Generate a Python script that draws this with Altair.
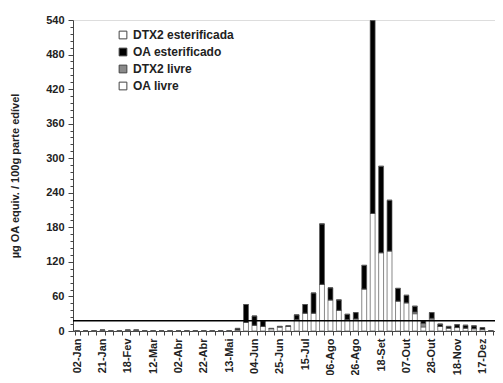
import altair as alt
import pandas as pd

dates = ["02-Jan", "08-Jan", "14-Jan", "21-Jan", "29-Jan", "08-Fev", "18-Fev", "25-Fev", "04-Mar", "12-Mar",
         "19-Mar", "26-Mar", "02-Abr", "09-Abr", "15-Abr", "22-Abr", "29-Abr", "06-Mai", "13-Mai", "20-Mai",
         "27-Mai", "04-Jun", "11-Jun", "18-Jun", "25-Jun", "02-Jul", "08-Jul", "15-Jul", "22-Jul", "29-Jul",
         "06-Ago", "12-Ago", "19-Ago", "26-Ago", "02-Set", "10-Set", "18-Set", "24-Set", "01-Out", "07-Out",
         "14-Out", "21-Out", "28-Out", "04-Nov", "11-Nov", "18-Nov", "26-Nov", "06-Dez", "17-Dez", "27-Dez"]
shown_labels = ["02-Jan", "21-Jan", "18-Fev", "12-Mar", "02-Abr", "22-Abr", "13-Mai", "04-Jun", "25-Jun",
                "15-Jul", "06-Ago", "26-Ago", "18-Set", "07-Out", "28-Out", "18-Nov", "17-Dez"]

oa_livre = [0, 0, 0, 1.5, 0, 0, 1.5, 1.5, 0, 0,
            0, 0, 0, 0, 0, 0, 0, 0, 0, 2,
            15, 10, 8, 4, 7, 8, 20, 31, 31, 81,
            54, 36, 20, 21, 73, 204, 136, 139, 52, 49,
            30, 7, 18, 8, 5, 6, 5, 4, 3, 0]
dtx2_livre = [0] * 40 + [3, 6, 4, 0, 0, 0, 0, 0, 0, 0]
oa_ester = [0, 0, 0, 0, 0, 0, 0, 0, 0, 0,
            0, 0, 0, 0, 0, 0, 0, 0, 0, 2.5,
            31, 16, 10, 0.5, 1, 1, 8, 15, 35, 105,
            21, 18, 9, 11, 41, 335, 150, 88, 22, 13,
            10, 5, 10, 4, 3, 5, 5, 5, 3, 0]
dtx2_ester = [0] * 50

y_ticks = list(range(0, 541, 12))
series = ["DTX2 esterificada", "OA esterificado", "DTX2 livre", "OA livre"]
colors = ["#ffffff", "#000000", "#8a8a8a", "#ffffff"]
limit = [18]

rows = []
for i, d in enumerate(dates):
    for name, vals, o in [("OA livre", oa_livre, 0), ("DTX2 livre", dtx2_livre, 1),
                          ("OA esterificado", oa_ester, 2), ("DTX2 esterificada", dtx2_ester, 3)]:
        rows.append({"date": d, "serie": name, "value": vals[i], "ord": o})
df = pd.DataFrame(rows)

label_list = "[" + ",".join("'%s'" % s for s in shown_labels) + "]"

y_axis = alt.Axis(title="µg OA equiv. / 100g parte edível",
                  values=y_ticks,
                  labelExpr="datum.value % 60 == 0 ? format(datum.value, 'd') : ''",
                  labelOverlap=False, labelBound=False, labelFlush=False,
                  tickSize={"condition": {"test": "datum.value % 60 == 0", "value": 5}, "value": 3},
                  grid=False, labelFont="Liberation Sans", labelFontWeight="bold", labelFontSize=11,
                  labelColor="#222222", tickColor="#444444", domainColor="#444444",
                  labelPadding=4, titleFont="Liberation Sans", titleFontWeight="bold",
                  titleFontSize=11, titleColor="#222222", titlePadding=25)
y_scale = alt.Scale(domain=[0, 540], nice=False)

bars = alt.Chart(df).mark_bar(stroke="#555555", strokeWidth=0.7).encode(
    x=alt.X("date:N", sort=dates,
            scale=alt.Scale(paddingInner=0.42, paddingOuter=0.2),
            axis=alt.Axis(title=None, labelAngle=-90, labelAlign="right", labelBaseline="middle",
                          labelExpr="indexof(%s, datum.value) >= 0 ? datum.value : ''" % label_list,
                          labelFont="Liberation Sans", labelFontWeight="bold", labelFontSize=11,
                          labelColor="#222222", tickBand="extent", tickSize=4, tickColor="#444444",
                          domainColor="#444444", labelPadding=3, labelOverlap=False)),
    y=alt.Y("value:Q", stack="zero", scale=y_scale, axis=y_axis),
    color=alt.Color("serie:N", scale=alt.Scale(domain=series, range=colors),
                    legend=alt.Legend(title=None, orient="none", legendX=44, legendY=9,
                                      symbolType="square", symbolSize=60, symbolStrokeColor="#444444",
                                      symbolStrokeWidth=1, labelFont="Liberation Sans",
                                      labelFontWeight="bold", labelFontSize=12, labelColor="#222222",
                                      rowPadding=5, labelOffset=4)),
    order=alt.Order("ord:Q", sort="ascending"),
)

rule = alt.Chart(pd.DataFrame({"value": limit})).mark_rule(color="black", strokeWidth=1.5).encode(
    y=alt.Y("value:Q", scale=y_scale, axis=y_axis))

chart = alt.layer(bars, rule).properties(
    width=422, height=311,
    padding={"left": 65, "top": 12, "right": 0, "bottom": 44},
    autosize=alt.AutoSizeParams(type="none"),
).configure_view(strokeWidth=0).configure(background="white")

chart.save("out.html", embed_options={"renderer": "svg", "actions": False})
